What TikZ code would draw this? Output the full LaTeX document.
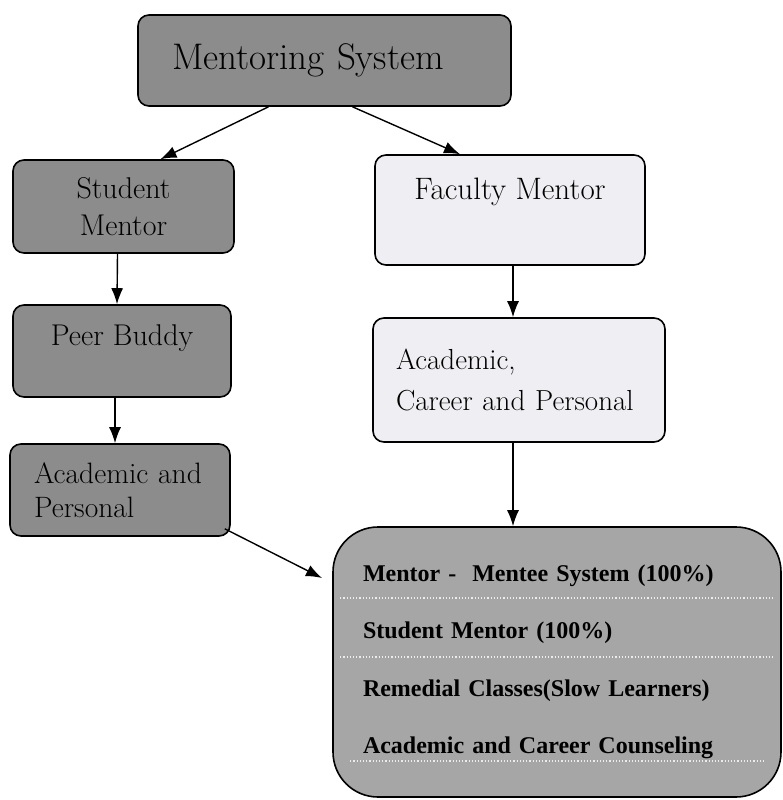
\documentclass[tikz,border=0pt]{standalone}
\usepackage{fontspec}
\usepackage{xcolor}
\usepackage{tikz}
\usetikzlibrary{arrows.meta}
\newfontfamily\timesbold[BoldFont=Liberation Serif Bold]{Liberation Serif}
\definecolor{boxdark}{HTML}{8C8C8C}
\definecolor{boxlight}{HTML}{EFEFF3}
\definecolor{boxbig}{HTML}{A6A6A6}
\tikzset{>={Latex[length=16pt,width=12pt]}}

\begin{document}
\begin{tikzpicture}[x=1pt, y=-1pt]
\tikzset{darkbox/.style={draw, line width=1.6pt, rounded corners=11pt, fill=boxdark, inner sep=0pt, font=\fontsize{30}{37}\selectfont},
         lightbox/.style={draw, line width=1.6pt, rounded corners=11pt, fill=boxlight, inner sep=0pt, font=\fontsize{30}{41}\selectfont},
         arr/.style={->, line width=1.4pt}}
    \useasboundingbox (0,0) rectangle (782,800);

    % left column
    \node[darkbox, minimum width=373pt, minimum height=91pt, text width=305pt, align=left, font=\fontsize{37}{40}\selectfont] (ms) at (324.5,60.5) {Mentoring System};
    \node[darkbox, minimum width=221pt, minimum height=93pt, align=center] (sm) at (123.5,206.5) {Student\\Mentor};
    \node[darkbox, minimum width=218pt, minimum height=92pt, text height=20pt, text depth=32pt] (pb) at (122,351) {Peer Buddy};
    \node[darkbox, minimum width=220pt, minimum height=92pt, text width=172pt, inner xsep=24pt, align=left, font=\fontsize{29.5}{34}\selectfont] (ap) at (120,490) {Academic and\\Personal};
% % % % % % % % % % % % % % % % % % %
    % right column
    \node[lightbox, minimum width=270pt, minimum height=110pt, text height=22pt, text depth=44pt, font=\fontsize{31}{41}\selectfont] (fm) at (510,210) {Faculty Mentor};
    \node[lightbox, minimum width=292pt, minimum height=124pt, text width=246pt, inner xsep=23pt, align=left, font=\fontsize{29}{41}\selectfont] (ac) at (519,380) {Academic,\\Career and Personal};

    \node[draw, line width=1.6pt, rounded corners=45pt, fill=boxbig, minimum width=448pt, minimum height=270pt, text width=388pt, inner xsep=30pt, align=left,
          font=\timesbold\bfseries\fontsize{24}{57.5}\selectfont] (big) at (557,662)
          {Mentor -\ \ Mentee System (100\%)\\Student Mentor (100\%)\\Remedial Classes(Slow Learners)\\Academic and Career Counseling};

    \draw[white!85!gray, line width=1.2pt, dotted] ([xshift=8pt, yshift=64pt]big.west) -- ([xshift=-8pt, yshift=64pt]big.east);
    \draw[white!85!gray, line width=1.2pt, dotted] ([xshift=8pt, yshift=5pt]big.west) -- ([xshift=-8pt, yshift=5pt]big.east);
    \draw[white!85!gray, line width=1.2pt, dotted] ([xshift=18pt, yshift=-99pt]big.west) -- ([xshift=-18pt, yshift=-99pt]big.east);
% % % % % % % % % % % % % % % % % % %
    % connectors
    \coordinate (tipAP) at (322,578);

    \draw[arr] ([xshift=-56pt]ms.south) -- ([xshift=37pt]sm.north);
    \draw[arr] ([xshift=28pt]ms.south) -- ([xshift=-50pt]fm.north);
    \draw[arr] ([xshift=-6pt]sm.south) -- ([xshift=-5pt]pb.north);
    \draw[arr] ([xshift=-7pt]pb.south) -- ([xshift=-5pt]ap.north);
    \draw[arr] ([xshift=3pt]fm.south) -- ([xshift=-6pt]ac.north);
    \draw[arr] ([xshift=-6pt]ac.south) -- ([xshift=-44pt]big.north);
    \draw[arr] ([xshift=-6pt, yshift=8pt]ap.south east) -- (tipAP);
\end{tikzpicture}
\end{document}
